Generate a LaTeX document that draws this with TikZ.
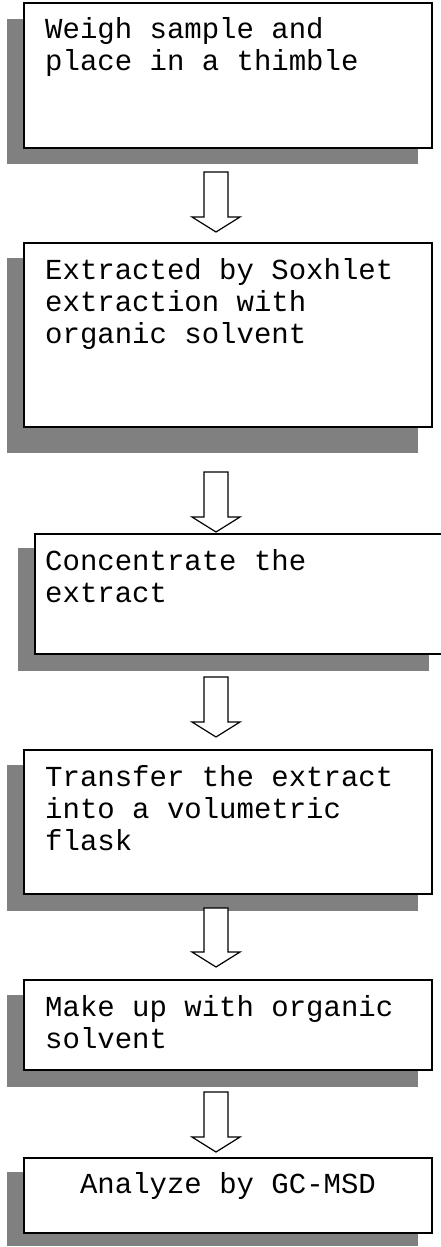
\documentclass[tikz,border=0pt]{standalone}
\usepackage{fontspec}
\newfontfamily\stepfont{Liberation Mono}
\usepackage{tikz}
\usetikzlibrary{positioning}
\usetikzlibrary{calc}

\tikzset{
  stepbox/.style={draw, fill=white, line width=1.8pt, inner sep=0pt, outer sep=0pt, minimum width=408pt},
  steptext/.style={inner sep=0pt, anchor=base west, font=\stepfont\fontsize{29}{32}\selectfont},
  shadowbox/.style={fill=black!50},
  arrowline/.style={draw, fill=white, line width=1.2pt, line join=miter}
}
\newcommand{\flowarrow}[3]{% name, top of shaft, tip
  \coordinate (#1) at (216,#3);
  \draw[arrowline] (204,#2) -- (204,#3-15) -- (192,#3-15) -- (#1) -- (240,#3-15) -- (228,#3-15) -- (228,#2) -- cycle;
}

\begin{document}
\begin{tikzpicture}[x=1pt, y=-1pt]
\useasboundingbox (0,0) rectangle (440,1247);
%% \draw[help lines] (0,0) grid[step=20] (440,1247);

%% shadows
\fill[shadowbox] (7,19) rectangle (418,164);
\fill[shadowbox] (7,258) rectangle (418,453);
\fill[shadowbox] (18,548) rectangle (429,671);
\fill[shadowbox] (7,765) rectangle (418,911);
\fill[shadowbox] (7,995) rectangle (418,1087);
\fill[shadowbox] (7,1172) rectangle (418,1246);

%% steps
\node[stepbox, minimum height=145pt] (weigh) at (228,75.5) {};
\node[steptext] (weightxt) at ([shift={(21,36)}]weigh.north west)
  {\parbox[t]{380pt}{Weigh sample and\\place in a thimble}};

\node[stepbox, minimum height=184pt] (soxhlet) at (228,335) {};
\node[steptext] (soxhlettxt) at ([shift={(21,36)}]soxhlet.north west)
  {\parbox[t]{380pt}{Extracted by Soxhlet\\extraction with\\organic solvent}};

\node[stepbox, minimum width=420pt, minimum height=120pt] (conc) at (245,594) {};
\node[steptext] (conctxt) at ([shift={(10,36)}]conc.north west)
  {\parbox[t]{380pt}{Concentrate the\\extract}};

\node[stepbox, minimum height=144pt] (transfer) at (228,822) {};
\node[steptext] (transfertxt) at ([shift={(21,36)}]transfer.north west)
  {\parbox[t]{380pt}{Transfer the extract\\into a volumetric\\flask}};

\node[stepbox, minimum height=90pt] (makeup) at (228,1025) {};
\node[steptext] (makeuptxt) at ([shift={(21,36)}]makeup.north west)
  {\parbox[t]{380pt}{Make up with organic\\solvent}};

\node[stepbox, minimum height=75pt] (gcmsd) at (228,1195.5) {};
\node[steptext, anchor=base] (gcmsdtxt) at ([yshift=-35pt]gcmsd.north)
  {Analyze by GC-MSD};

%% arrows between the steps
\flowarrow{a1}{172}{232}
\flowarrow{a2}{472}{532}
\flowarrow{a3}{677}{737}
\flowarrow{a4}{908}{967}
\flowarrow{a5}{1092}{1152}
\end{tikzpicture}
\end{document}
